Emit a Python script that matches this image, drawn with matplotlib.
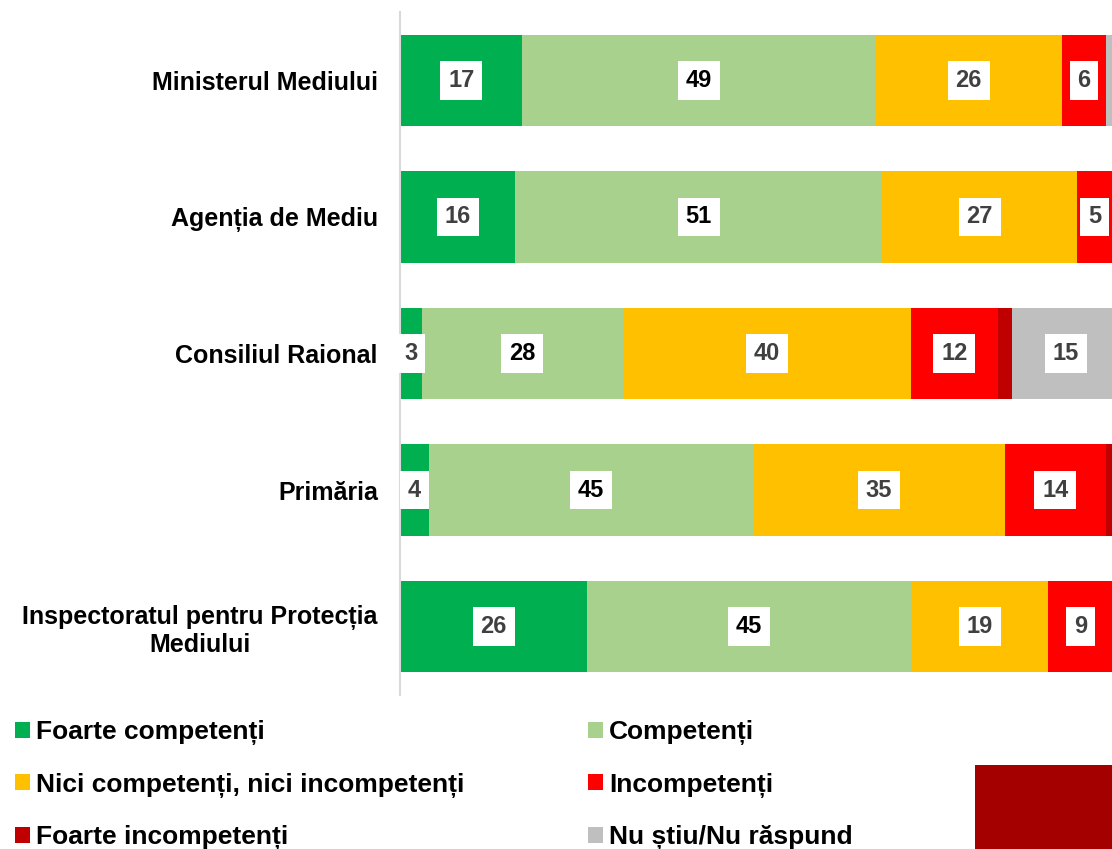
import matplotlib
matplotlib.use("Agg")
import matplotlib.pyplot as plt
from matplotlib.patches import Patch, Rectangle
import numpy as np

plt.rcParams['font.family'] = ['Liberation Sans', 'DejaVu Sans']

categories = ["Ministerul Mediului", "Agenția de Mediu", "Consiliul Raional",
              "Primăria", "Inspectoratul pentru Protecția\nMediului"]
series_names = ["Foarte competenți", "Competenți", "Nici competenți, nici incompetenți",
                "Incompetenți", "Foarte incompetenți", "Nu știu/Nu răspund"]
foarte_competenti = [17, 16, 3, 4, 26]
competenti = [49, 51, 28, 45, 45]
nici = [26, 27, 40, 35, 19]
incompetenti = [6, 5, 12, 14, 9]
foarte_incompetenti = [0, 0, 2, 1, 0]
nu_stiu = [2, 1, 15, 1, 1]

series = [foarte_competenti, competenti, nici, incompetenti, foarte_incompetenti, nu_stiu]
colors = ["#00B050", "#A9D18E", "#FFC000", "#FF0000", "#C00000", "#BFBFBF"]

W, H = 1112, 849
fig = plt.figure(figsize=(W / 100, H / 100), dpi=100)
ax = fig.add_axes([400 / W, (H - 695) / H, 720 / W, 683 / H])

y = np.arange(len(categories))
left = np.zeros(len(categories))
handles = []
for name, vals, col in zip(series_names, series, colors):
    vals = np.array(vals, dtype=float)
    ax.barh(y, vals, left=left, height=0.67, color=col, edgecolor='none')
    for yi, (l, v) in enumerate(zip(left, vals)):
        if v >= 3:
            is_comp = (name == "Competenți")
            ax.text(l + v / 2, yi, f"{int(v)}", ha='center', va='center',
                    fontsize=17, fontweight='bold',
                    color='black' if is_comp else '#404040',
                    bbox=dict(boxstyle='square,pad=0.33', facecolor='white', edgecolor='none'))
    left += vals
    handles.append(Patch(facecolor=col, edgecolor='none', label=name))

ax.set_xlim(0, 100)
ax.set_ylim(len(categories) - 0.5, -0.5)
ax.set_yticks(y)
ax.set_yticklabels(categories, fontsize=18, fontweight='bold')
ax.set_xticks([])
for s in ['top', 'right', 'bottom']:
    ax.spines[s].set_visible(False)
ax.spines['left'].set_color('#D9D9D9')
ax.spines['left'].set_linewidth(1.5)

for lbl in ax.get_yticklabels():
    lbl.set_ha('right')
    lbl.set_multialignment('center')
    lbl.set_linespacing(1.2)
ax.tick_params(axis='y', length=0, pad=16)

leg_kw = dict(frameon=False, prop={'size': 19, 'weight': 'bold'}, handlelength=0.55,
              handleheight=0.55, handletextpad=0.25, labelspacing=1.05, borderaxespad=0,
              borderpad=0)
order1 = [0, 2, 4]
order2 = [1, 3, 5]
leg1 = fig.legend([handles[i] for i in order1], [series_names[i] for i in order1],
                  loc='upper left', bbox_to_anchor=(15 / W, 1 - 720 / H), **leg_kw)
leg2 = fig.legend([handles[i] for i in order2], [series_names[i] for i in order2],
                  loc='upper left', bbox_to_anchor=(588 / W, 1 - 720 / H), **leg_kw)

fig.patches.append(Rectangle((975 / W, 0), (W - 975) / W, (H - 765) / H,
                             transform=fig.transFigure, facecolor='#A50000',
                             edgecolor='none', zorder=0))

fig.savefig("out.png", dpi=100, facecolor='white')
